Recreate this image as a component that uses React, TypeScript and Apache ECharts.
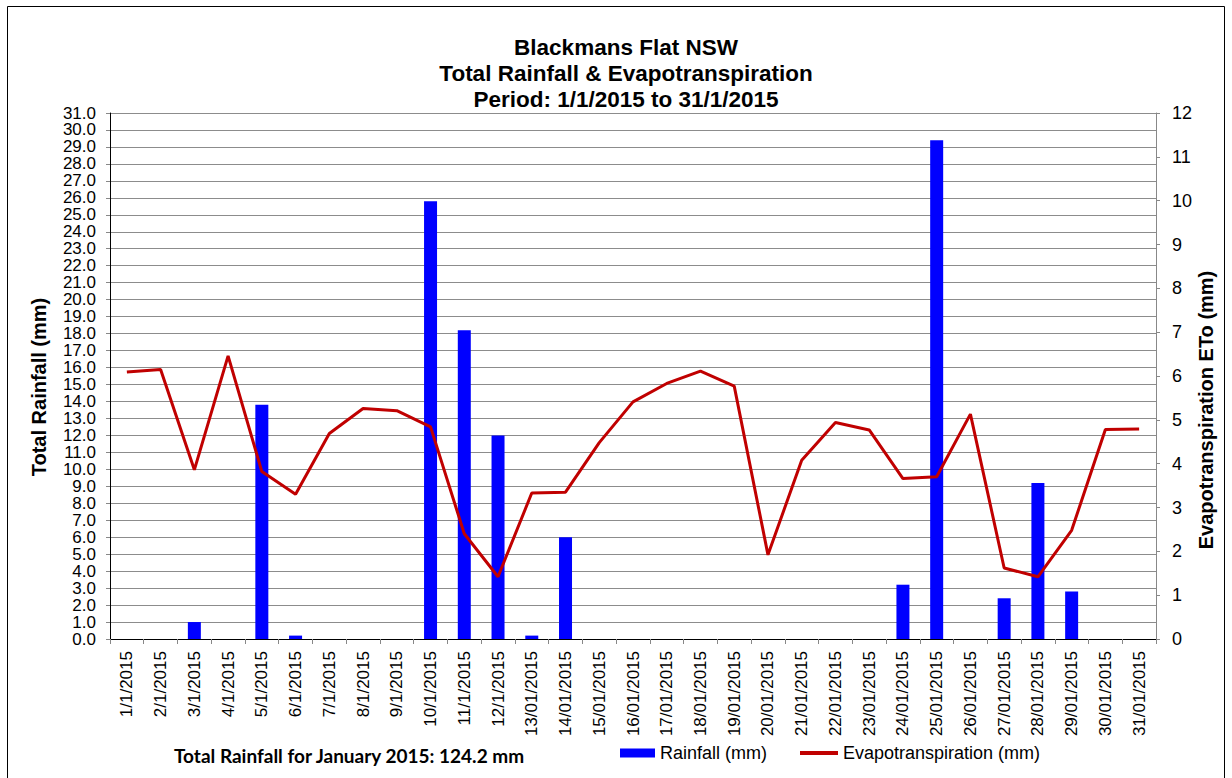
import React, { useEffect, useRef } from "react";
import * as echarts from "echarts";

const dates = [
  "1/1/2015", "2/1/2015", "3/1/2015", "4/1/2015", "5/1/2015", "6/1/2015", "7/1/2015",
  "8/1/2015", "9/1/2015", "10/1/2015", "11/1/2015", "12/1/2015", "13/01/2015", "14/01/2015",
  "15/01/2015", "16/01/2015", "17/01/2015", "18/01/2015", "19/01/2015", "20/01/2015",
  "21/01/2015", "22/01/2015", "23/01/2015", "24/01/2015", "25/01/2015", "26/01/2015",
  "27/01/2015", "28/01/2015", "29/01/2015", "30/01/2015", "31/01/2015",
];
const rainfall = [
  0, 0, 1.0, 0, 13.8, 0.2, 0, 0, 0, 25.8, 18.2, 12.0, 0.2, 6.0, 0, 0, 0, 0, 0, 0, 0, 0, 0,
  3.2, 29.4, 0, 2.4, 9.2, 2.8, 0, 0,
];
const eto = [
  6.09, 6.15, 3.86, 6.46, 3.82, 3.3, 4.69, 5.26, 5.21, 4.84, 2.4, 1.42, 3.33, 3.35, 4.48,
  5.41, 5.83, 6.11, 5.77, 1.92, 4.08, 4.94, 4.77, 3.66, 3.7, 5.13, 1.62, 1.42, 2.48, 4.78, 4.79,
];
const titleLines = [
  "Blackmans Flat NSW",
  "Total Rainfall & Evapotranspiration",
  "Period: 1/1/2015 to 31/1/2015",
];
const leftAxisName = "Total Rainfall (mm)";
const rightAxisName = "Evapotranspiration ETo (mm)";
const totalText = "Total Rainfall for January 2015: 124.2 mm";
const rainName = "Rainfall (mm)";
const etoName = "Evapotranspiration (mm)";

const FONT = "Arial, 'Liberation Sans', sans-serif";

export default function App() {
  const ref = useRef<HTMLDivElement>(null);
  useEffect(() => {
    if (!ref.current) return;
    const chart = echarts.init(ref.current, null, { renderer: "svg" });
    chart.setOption({
      animation: false,
      backgroundColor: "#ffffff",
      grid: { left: 110, right: 76, top: 113, bottom: 139, containLabel: false },
      legend: [
        {
          left: 620,
          top: 744,
          padding: 0,
          itemWidth: 35,
          itemHeight: 9,
          icon: "rect",
          textStyle: { fontFamily: FONT, fontSize: 18, color: "#000" },
          data: [{ name: rainName, textStyle: { fontFamily: FONT, fontSize: 18, color: "#000" } }],
        },
        {
          left: 800,
          top: 744,
          padding: 0,
          itemWidth: 38,
          itemHeight: 4,
          icon: "rect",
          textStyle: { fontFamily: FONT, fontSize: 18, color: "#000" },
          data: [{ name: etoName, textStyle: { fontFamily: FONT, fontSize: 18, color: "#000" } }],
        },
      ],
      xAxis: {
        type: "category",
        data: dates,
        boundaryGap: true,
        axisLine: { lineStyle: { color: "#000", width: 1 } },
        axisTick: { show: true, interval: 0, length: 5, lineStyle: { color: "#888" } },
        axisLabel: {
          interval: 0,
          rotate: 90,
          fontFamily: FONT,
          fontSize: 17,
          color: "#000",
          margin: 12,
        },
      },
      yAxis: [
        {
          type: "value",
          min: 0,
          max: 31,
          interval: 1,
          axisLine: { show: true, lineStyle: { color: "#000", width: 1 } },
          axisTick: { show: true, length: 4, lineStyle: { color: "#888" } },
          axisLabel: {
            formatter: (v: number) => v.toFixed(1),
            fontFamily: FONT,
            fontSize: 17,
            color: "#000",
            margin: 14,
          },
          splitLine: { show: true, lineStyle: { color: "#8c8c8c", width: 1 } },
        },
        {
          type: "value",
          min: 0,
          max: 12,
          interval: 1,
          position: "right",
          axisLine: { show: true, lineStyle: { color: "#888", width: 1 } },
          axisTick: { show: true, length: 4, lineStyle: { color: "#888" } },
          axisLabel: {
            fontFamily: FONT,
            fontSize: 18,
            color: "#000",
            margin: 16,
          },
          splitLine: { show: false },
        },
      ],
      series: [
        {
          name: rainName,
          type: "bar",
          data: rainfall,
          yAxisIndex: 0,
          barWidth: 13,
          itemStyle: { color: "#0000ff" },
        },
        {
          name: etoName,
          type: "line",
          data: eto,
          yAxisIndex: 1,
          symbol: "none",
          lineStyle: { color: "#c00000", width: 3 },
          itemStyle: { color: "#c00000" },
        },
      ],
      graphic: [
        {
          type: "rect",
          shape: { x: 7.5, y: 6.5, width: 1217, height: 800 },
          style: { fill: "none", stroke: "#000", lineWidth: 1 },
          silent: true,
        },
        ...titleLines.map((t, i) => ({
          type: "text",
          x: 626,
          y: 47 + i * 26,
          style: {
            text: t,
            fontFamily: FONT,
            fontWeight: "bold",
            fontSize: 22.5,
            fill: "#000",
            textAlign: "center",
            textVerticalAlign: "middle",
          },
        })),
        {
          type: "text",
          x: 39,
          y: 387,
          rotation: Math.PI / 2,
          style: {
            text: leftAxisName,
            fontFamily: FONT,
            fontWeight: "bold",
            fontSize: 20,
            fill: "#000",
            textAlign: "center",
            textVerticalAlign: "middle",
          },
        },
        {
          type: "text",
          x: 1206,
          y: 410,
          rotation: Math.PI / 2,
          style: {
            text: rightAxisName,
            fontFamily: FONT,
            fontWeight: "bold",
            fontSize: 20,
            fill: "#000",
            textAlign: "center",
            textVerticalAlign: "middle",
          },
        },
        {
          type: "text",
          x: 174,
          y: 755,
          style: {
            text: totalText,
            fontFamily: "Lato, 'Open Sans', sans-serif",
            fontWeight: "bold",
            fontSize: 19,
            fill: "#000",
            textAlign: "left",
            textVerticalAlign: "middle",
          },
        },
      ],
    });
    return () => chart.dispose();
  }, []);
  return (
    <div
      ref={ref}
      style={{ position: "absolute", left: 0, top: 0, width: 1232, height: 778 }}
    />
  );
}
